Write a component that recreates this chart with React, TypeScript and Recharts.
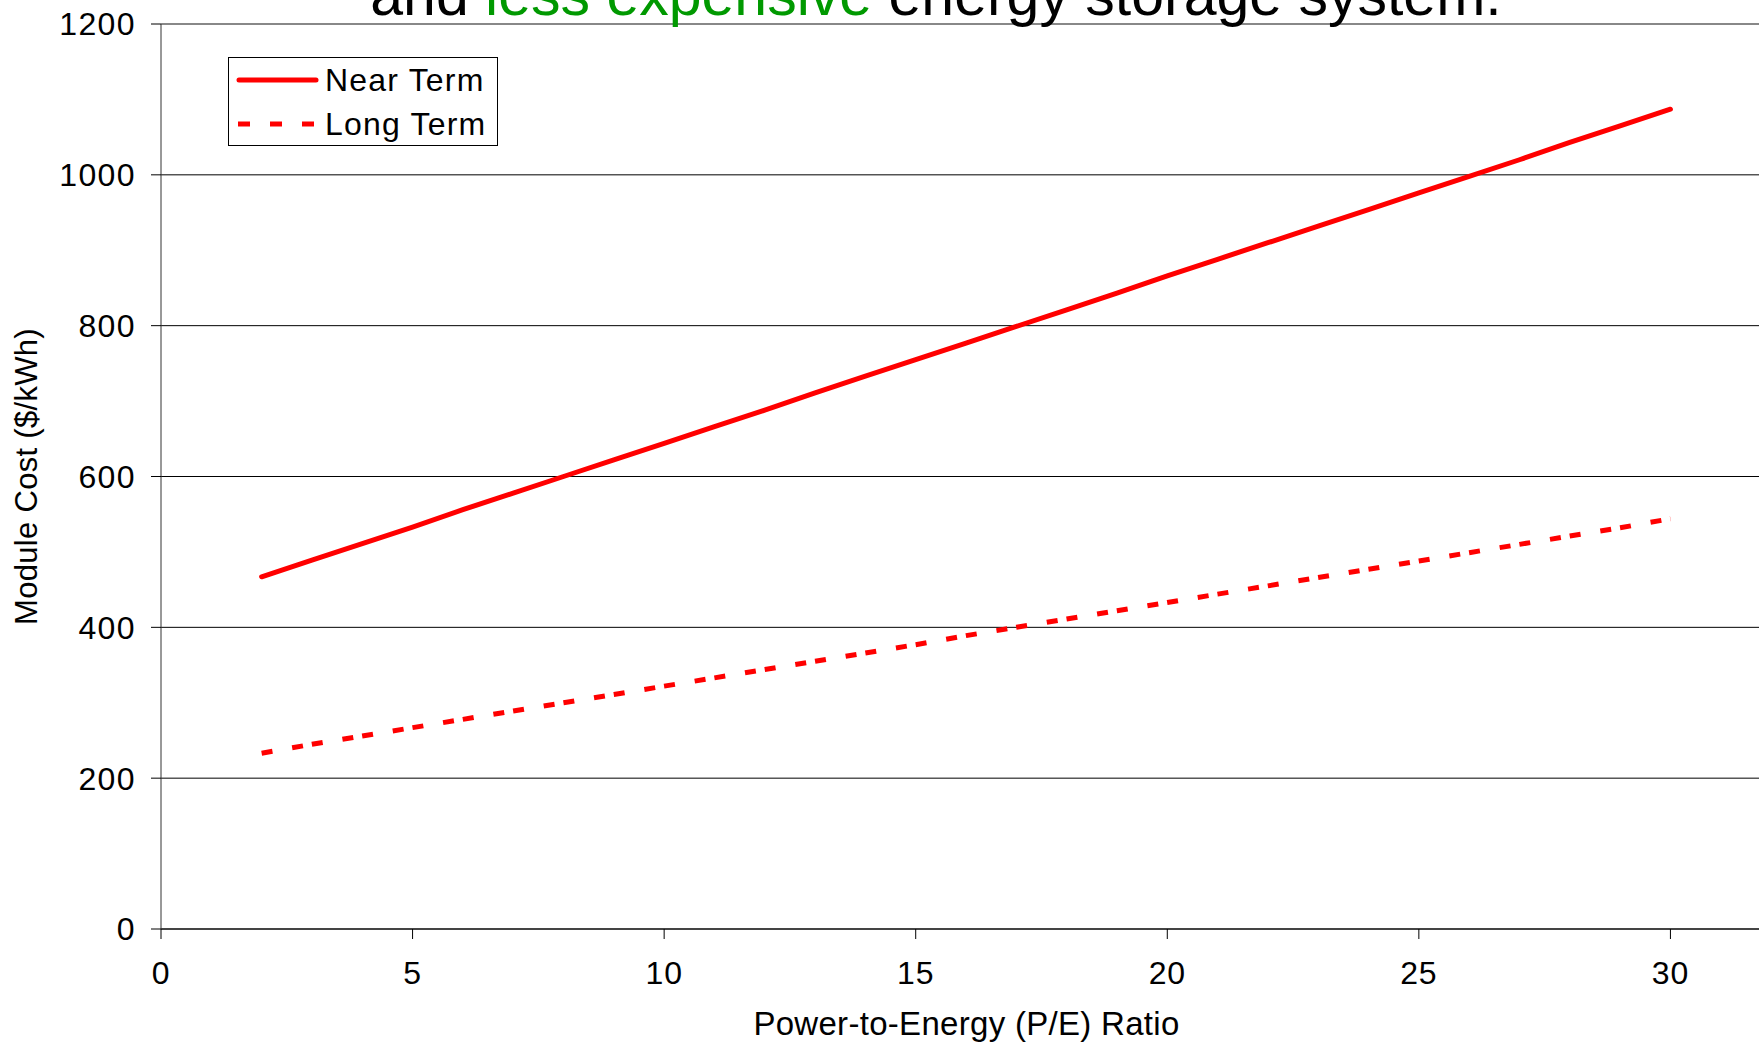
import React from 'react';
import { LineChart, Line, XAxis, YAxis, CartesianGrid, Legend, ReferenceLine } from 'recharts';

const peRatio = [2, 3, 4, 5, 6, 7, 8, 9, 10, 11, 12, 13, 14, 15, 16, 17, 18, 19, 20, 21, 22, 23, 24, 25, 26, 27, 28, 29, 30];
const nearTerm = [467, 489, 511, 533, 556, 578, 600, 622, 644, 666, 688, 711, 733, 755, 777, 799, 821, 843, 866, 888, 910, 932, 954, 976, 998, 1020, 1043, 1065, 1087];
const longTerm = [233, 245, 256, 267, 278, 289, 300, 311, 322, 333, 344, 355, 366, 377, 389, 400, 411, 422, 433, 444, 455, 466, 477, 488, 499, 510, 521, 532, 544];

const seriesNames = ['Near Term', 'Long Term'];
const xTicks = [0, 5, 10, 15, 20, 25, 30];
const yTicks = [0, 200, 400, 600, 800, 1000, 1200];

const data = peRatio.map((pe, i) => ({ pe, near: nearTerm[i], long: longTerm[i] }));

const FONT = '"Liberation Sans", Arial, sans-serif';

function LegendBox(props: any) {
  const items = [...(props.payload || [])].sort(
    (a: any, b: any) => seriesNames.indexOf(a.value) - seriesNames.indexOf(b.value)
  );
  return (
    <div style={{ position: 'relative', width: 268, height: 87 }}>
      {items.map((it: any, i: number) => {
        const dashed = it.payload && it.payload.strokeDasharray;
        return (
          <div
            key={it.value}
            style={{ position: 'absolute', left: 0, top: 21.5 + i * 44.5 - 20, height: 40, display: 'flex', alignItems: 'center' }}
          >
            <svg width={96} height={40}>
              {dashed ? (
                <line x1={9} x2={86} y1={20} y2={20} stroke={it.color} strokeWidth={5} strokeDasharray="12 20" />
              ) : (
                <line x1={10} x2={87} y1={20} y2={20} stroke={it.color} strokeWidth={5} strokeLinecap="round" />
              )}
            </svg>
            <span style={{ fontSize: 32, letterSpacing: 1.2, color: '#000', lineHeight: '40px', whiteSpace: 'nowrap' }}>{it.value}</span>
          </div>
        );
      })}
    </div>
  );
}

export default function App() {
  return (
    <div style={{ position: 'absolute', left: 0, top: 0, width: 1759, height: 1042, overflow: 'hidden', background: '#fff', fontFamily: FONT }}>
      <LineChart width={1922} height={1042} data={data} margin={{ top: 24, right: 0, bottom: 0, left: 0 }}>
        <CartesianGrid vertical={false} stroke="#000" strokeWidth={1} />
        <XAxis
          dataKey="pe"
          type="number"
          domain={[0, 35]}
          ticks={xTicks}
          interval={0}
          height={113}
          tickSize={10}
          tickMargin={22}
          axisLine={{ stroke: '#444', strokeWidth: 2 }}
          tickLine={{ stroke: '#000' }}
          tick={{ fontSize: 32, fill: '#000', letterSpacing: 0.8 }}
          label={{ value: 'Power-to-Energy (P/E) Ratio', position: 'insideBottom', offset: 7, dx: -75, style: { fontSize: 33, fill: '#000', letterSpacing: 0.3 } }}
        />
        <YAxis
          type="number"
          domain={[0, 1200]}
          ticks={yTicks}
          interval={0}
          width={161}
          tickSize={10}
          tickMargin={15}
          axisLine={{ stroke: '#333' }}
          tickLine={{ stroke: '#000' }}
          tick={{ fontSize: 32, fill: '#000', letterSpacing: 1.4 }}
          label={{ value: 'Module Cost ($/kWh)', angle: -90, position: 'insideLeft', offset: 26, style: { fontSize: 31, fill: '#000', textAnchor: 'middle', letterSpacing: 0.3 } }}
        />
        <ReferenceLine y={1200} stroke="#888" strokeWidth={2} />
        <Legend
          layout="vertical"
          align="center"
          verticalAlign="middle"
          content={LegendBox}
          wrapperStyle={{ left: 228, top: 57, width: 270, height: 89, border: '1px solid #000', background: '#fff', boxSizing: 'border-box' }}
        />
        <Line
          dataKey="near"
          name="Near Term"
          stroke="#ff0000"
          strokeWidth={5}
          strokeLinecap="round"
          dot={false}
          activeDot={false}
          isAnimationActive={false}
        />
        <Line
          dataKey="long"
          name="Long Term"
          stroke="#ff0000"
          strokeWidth={5}
          strokeDasharray="11 20 11 9"
          dot={false}
          activeDot={false}
          isAnimationActive={false}
        />
      </LineChart>
      <svg width={1759} height={40} style={{ position: 'absolute', left: 0, top: 0, overflow: 'visible' }}>
        <text x={936} y={15} textAnchor="middle" fontSize={59} fontFamily={FONT} fill="#000">
          and <tspan fill="#009900">less expensive</tspan> energy storage system.
        </text>
      </svg>
    </div>
  );
}
